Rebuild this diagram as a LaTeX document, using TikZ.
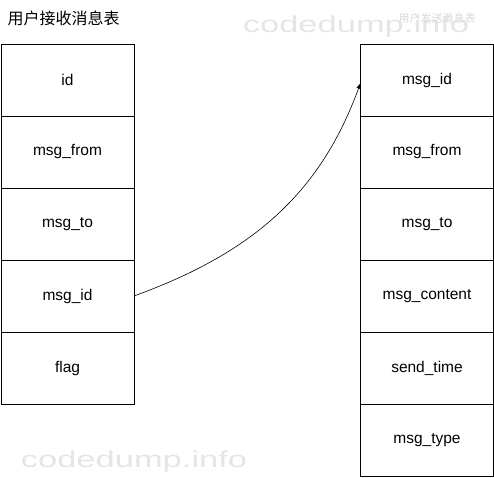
\documentclass[tikz,border=0pt]{standalone}
\usepackage{fontspec}
\setmainfont{Liberation Sans}
\newfontfamily\cjk{Noto Sans CJK SC}
\usetikzlibrary{positioning,arrows.meta}

\tikzset{
    cell/.style={draw, line width=0.8pt, minimum width=133pt, minimum height=72pt,
        inner sep=0pt, outer sep=0pt, font=\fontsize{15.5}{17}\selectfont},
    wmark/.style={text=gray!20, anchor=base, inner sep=0pt, font=\fontsize{23}{25}\selectfont},
}

\begin{document}
\begin{tikzpicture}[x=1pt, y=1pt, >=Latex]
    \useasboundingbox (0,0) rectangle (494,477);

    % 1. Nền mờ
    \node[wmark] (wm1) at (356,444) {\scalebox{1.5}[1]{codedump.info}};
    \node[wmark] (wm2) at (134,10) {\scalebox{1.5}[1]{codedump.info}};
    \node[text=gray!30, font=\cjk\fontsize{11}{13}\selectfont] (ttr) at (437,459) {用户发送消息表};

    % 2. Bảng bên trái
    \node[font=\cjk\fontsize{16}{18}\selectfont, anchor=west] (ttl) at (4,459) {用户接收消息表};
    \node[cell, anchor=north west] (l1) at (1,433) {id};
    \node[cell, below=0pt of l1] (l2) {msg\_from};
    \node[cell, below=0pt of l2] (l3) {msg\_to};
    \node[cell, below=0pt of l3] (l4) {msg\_id};
    \node[cell, below=0pt of l4] (l5) {flag};

    % 3. Bảng bên phải
    \foreach \txt [count=\i] in {msg\_id, msg\_from, msg\_to, msg\_content, send\_time, msg\_type} {
        \node[cell] (r\i) at (427, 469-\i*72) {\txt};
    }

    % 4. Mũi tên
    \draw[->, line width=0.6pt] (l4.east) to[out=20, in=250] ([yshift=-3pt]r1.west);
\end{tikzpicture}
\end{document}
